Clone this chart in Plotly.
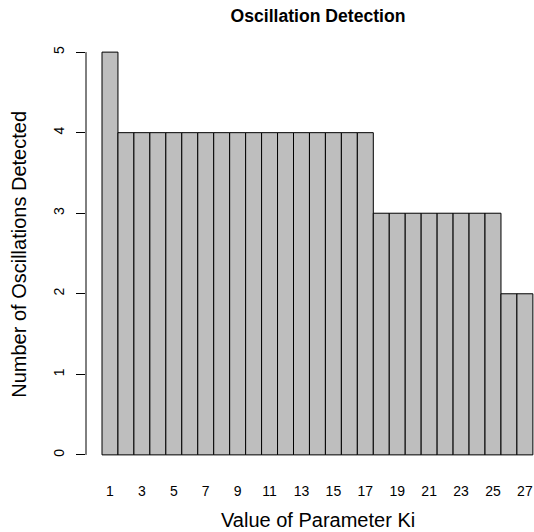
import plotly.graph_objects as go

ki_values = list(range(1, 28))
oscillations = [5] + [4] * 16 + [3] * 8 + [2] * 2
x_tick_vals = list(range(1, 28, 2))
x_tick_text = [str(v) for v in x_tick_vals]
y_tick_vals = [0, 1, 2, 3, 4, 5]

W, H = 534, 532
ML, MT, MB = 86, 36.4, 60.9
PW, PH = W - ML, H - MT - MB


def px(p):
    return (p - ML) / PW


def py(p):
    return 1 - (p - MT) / PH


fig = go.Figure()
fig.add_trace(go.Bar(
    x=ki_values, y=oscillations, width=1,
    marker=dict(color="#BEBEBE", line=dict(color="black", width=1)),
))

fig.add_shape(type="line", xref="paper", yref="y", x0=0, x1=0, y0=0, y1=5,
              line=dict(color="black", width=1))

font_fam = "Liberation Sans, Arial, sans-serif"

fig.add_annotation(text="Value of Parameter Ki", xref="paper", yref="paper",
                   x=px(318), y=py(520), xanchor="center", yanchor="middle",
                   showarrow=False, font=dict(size=20, family=font_fam, color="black"))
fig.add_annotation(text="Number of Oscillations Detected", xref="paper", yref="paper",
                   x=px(19), y=py(255), xanchor="center", yanchor="middle", textangle=-90,
                   showarrow=False, font=dict(size=20, family=font_fam, color="black"))

fig.update_layout(
    width=W, height=H,
    margin=dict(l=ML, r=0, t=MT, b=MB),
    paper_bgcolor="white", plot_bgcolor="white",
    showlegend=False,
    font=dict(family=font_fam, color="black"),
    title=dict(text="<b>Oscillation Detection</b>", x=318 / W, xanchor="center",
               xref="container", y=1 - 15.5 / H, yanchor="middle", font=dict(size=17.6)),
    xaxis=dict(range=[-0.5025, 27.57], tickvals=x_tick_vals, ticktext=x_tick_text,
               showgrid=False, zeroline=False, showline=False, ticks="",
               ticklabelstandoff=10, tickfont=dict(size=14)),
    yaxis=dict(range=[-0.2, 5.2], tickvals=y_tick_vals, showgrid=False, zeroline=False,
               showline=False, ticks="outside", ticklen=9, tickcolor="black", tickwidth=1,
               tickangle=-90, tickfont=dict(size=14), ticklabelstandoff=6),
)

fig.write_html("out.html")
